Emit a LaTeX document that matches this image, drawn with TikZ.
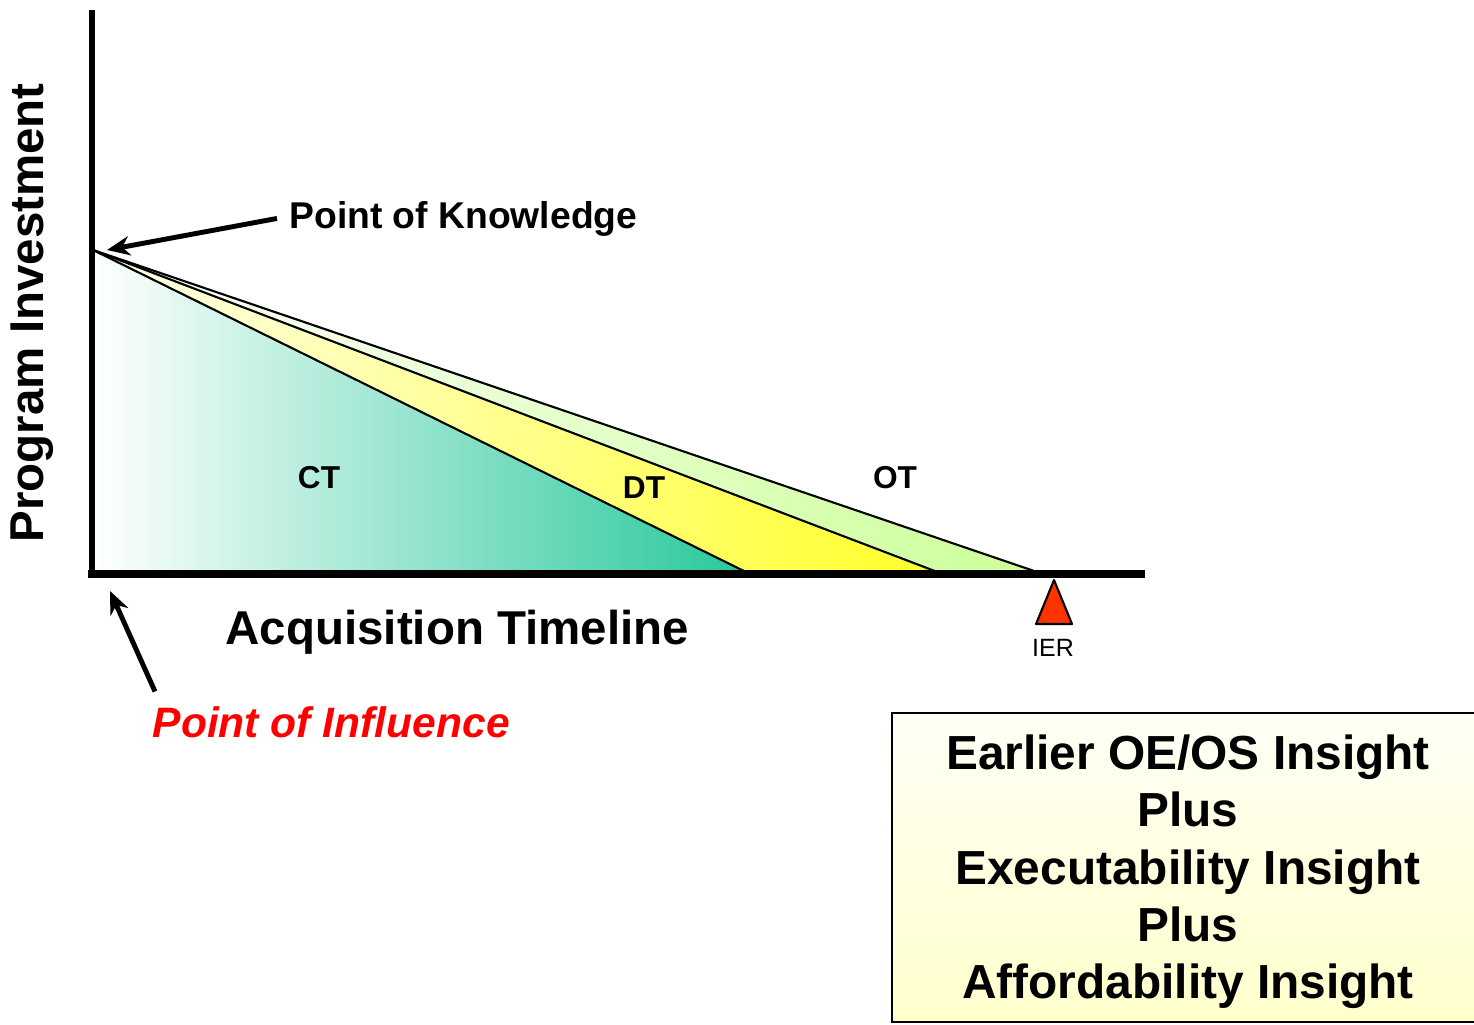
\documentclass[tikz,border=0pt]{standalone}
\usepackage{fontspec}
\setmainfont{Liberation Sans}
\usetikzlibrary{arrows.meta}
\definecolor{ctteal}{RGB}{40,200,155}
\definecolor{dtyellow}{RGB}{255,255,40}
\definecolor{otgreen}{RGB}{204,255,153}
\definecolor{ierred}{RGB}{255,51,0}
\definecolor{boxtop}{RGB}{255,255,246}
\definecolor{boxbottom}{RGB}{255,255,204}

\begin{document}
\begin{tikzpicture}[x=0.01cm, y=-0.01cm,
    zone/.style={draw=black, line width=0.6pt, line join=round},
    pointer/.style={line width=1.4pt, -{Stealth[length=6.5pt, width=5.5pt]}},
    axislabel/.style={font=\fontsize{13.5}{16}\selectfont\bfseries, inner sep=0pt},
    zonelabel/.style={font=\fontsize{9}{11}\selectfont\bfseries},
    insight/.style={draw=black, line width=0.6pt, top color=boxtop, bottom color=boxbottom}
]
    \useasboundingbox (0,0) rectangle (1474,1024);

    \coordinate (apex) at (93,250);
    \coordinate (origin) at (93,573);
    \coordinate (ctend) at (748,573);
    \coordinate (dtend) at (940,573);
    \coordinate (otend) at (1040,573);

    \draw[zone, left color=white, middle color=otgreen!45!white, right color=otgreen]
        (apex) -- (otend) -- (origin) -- cycle;
    \draw[zone, left color=dtyellow!8!white, middle color=dtyellow!42!white, right color=dtyellow]
        (apex) -- (dtend) -- (origin) -- cycle;
    \draw[zone, left color=white, middle color=ctteal!14!white, right color=ctteal]
        (apex) -- (ctend) -- (origin) -- cycle;

    \draw[line width=1.7pt] (92,10) -- (92,576);
    \draw[line width=2.3pt] (88,574) -- (1145,574);

    \node[zonelabel] (ct) at (319,478) {CT};
    \node[zonelabel] (dt) at (644,488) {DT};
    \node[zonelabel] (ot) at (895,478) {OT};

    \node[axislabel, anchor=base west] (timeline) at (225,644) {Acquisition Timeline};
    \node[axislabel, anchor=base west, rotate=90] (investment) at (44,543) {Program Investment};

    \node[font=\fontsize{10.6}{12}\selectfont\bfseries, anchor=base west] (knowlbl) at (277,228)
        {Point of Knowledge};
    \coordinate (knowtip) at (107,250);
    \draw[pointer] (knowlbl.west) -- (knowtip);

    \node[font=\fontsize{12.1}{14}\selectfont\bfseries\itshape, text=red, anchor=base west,
        inner sep=0pt] (inflbl) at (152,737) {Point of Influence};
    \coordinate (inftip) at (110,591);
    \draw[pointer] ([shift={(3,-14)}]inflbl.north west) -- (inftip);

    \coordinate (ier) at (1054,580);
    \draw[line width=0.6pt, fill=ierred, line join=round] (ier) -- (1072,624) -- (1036,624) -- cycle;
    \node[font=\fontsize{7.1}{9}\selectfont] (ierlbl) at (1053,648) {IER};

    \draw[insight] (892,713) rectangle (1484,1022);
    \node[align=center, font=\fontsize{13.6}{16.3}\selectfont\bfseries] (insights) at (1188,872)
        {Earlier OE/OS Insight\\Plus\\Executability Insight\\Plus\\Affordability Insight};
\end{tikzpicture}
\end{document}
